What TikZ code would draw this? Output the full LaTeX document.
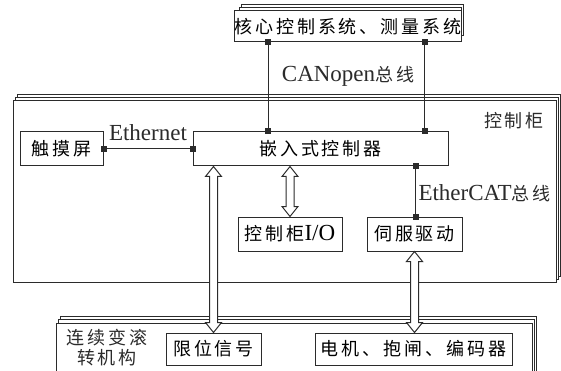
\documentclass[tikz,border=0pt]{standalone}
\usepackage{fontspec}
\setmainfont{Liberation Serif}
\newfontfamily\cjk[LetterSpace=16]{Noto Sans CJK SC}
\usetikzlibrary{calc}
\definecolor{ink}{HTML}{2B2B2B}
\newcommand\zh[1]{{\cjk\fontsize{18}{20}\selectfont #1}}
\newcommand\latin{\fontsize{23}{25}\selectfont}
\newcommand\hollowarrow[2]{%
  \draw[arrowline] let \p1=(#1), \p2=(#2) in
  (\x1,\y1) -- ++(8pt,-10pt) -- ++(-4pt,0pt) -- (\x2+4pt,\y2+10pt) -- ++(4pt,0pt)
  -- (\x2,\y2) -- ++(-8pt,10pt) -- ++(4pt,0pt) -- (\x1-4pt,\y1-10pt) -- ++(-4pt,0pt) -- cycle;}
\begin{document}
\begin{tikzpicture}[x=1pt,y=-1pt,line width=1pt,
  box/.style={draw=ink,fill=white,inner sep=0pt,font=\latin},
  sq/.style={fill=ink,minimum size=6pt,inner sep=0pt},
  link/.style={draw=ink,line width=1pt},
  arrowline/.style={draw=ink,fill=white,line width=1pt,line join=miter},
  frame/.style={draw=ink,fill=white,line width=1pt},
  lbl/.style={inner sep=0pt,font=\latin,text=ink}]
\useasboundingbox[fill=white] (0,0) rectangle (561,371);
% control cabinet frame (stacked)
\draw[frame] (17,94.5) rectangle (560,276);
\draw[frame] (15,97.5) rectangle (558,279);
\draw[frame] (13,100.5) rectangle (556,282);
% mechanism frame (stacked)
\draw[frame] (60,316) rectangle (536,390);
\draw[frame] (58,319.5) rectangle (534,390);
\draw[frame] (56,323) rectangle (532,390);
% core system box (stacked)
\draw[frame] (241,5) rectangle (463,36);
\draw[frame] (239,8) rectangle (461,39);
\node[box,minimum width=222pt,minimum height=31pt] (core) at (348,26.5) {\zh{核心控制系统、测量系统}};
% nodes
\node[box,minimum width=255pt,minimum height=34pt] (ctrl) at (320.5,149) {\zh{嵌入式控制器}};
\node[box,minimum width=83pt,minimum height=34pt] (touch) at (61.5,149) {\zh{触摸屏}};
\node[box,minimum width=104pt,minimum height=34pt] (io) at (290,234) {\zh{控制柜}I/O};
\node[box,minimum width=95pt,minimum height=34pt] (servo) at (414.5,234) {\zh{伺服驱动}};
\node[box,minimum width=95pt,minimum height=32pt] (limit) at (213.5,349) {\zh{限位信号}};
\node[box,minimum width=197pt,minimum height=32pt] (motor) at (413.5,349) {\zh{电机、抱闸、编码器}};
% labels
\node[lbl] (canlbl) at (348,76) {CANopen\zh{总线}};
\node[lbl] (ethlbl) at (148,133) {Ethernet};
\node[lbl,anchor=west] (ecatlbl) at (418,193) {EtherCAT\zh{总线}};
\node[lbl] (cablbl) at (514,121) {\zh{控制柜}};
\node[lbl,align=center,font={\cjk\fontsize{18}{20}\selectfont}] (mechlbl) at (107,348) {连续变滚\\转机构};
% bus connectors with square terminals
\node[sq] (s1) at ($(core.south west)+(34,0)$) {};
\node[sq] (s2) at (s1 |- ctrl.north) {};
\node[sq] (s3) at ($(core.south east)+(-37,0)$) {};
\node[sq] (s4) at (s3 |- ctrl.north) {};
\node[sq] (s5) at (touch.east) {};
\node[sq] (s6) at (ctrl.west) {};
\node[sq] (s7) at ($(ctrl.south east)+(-33,0)$) {};
\node[sq] (s8) at (s7 |- servo.north) {};
\draw[link] (s1.center) -- (s2.center);
\draw[link] (s3.center) -- (s4.center);
\draw[link] (s5.center) -- (s6.center);
\draw[link] (s7.center) -- (s8.center);
% hollow double arrows
\hollowarrow{ctrl.south -| io.north}{io.north}
\hollowarrow{ctrl.south -| limit.north}{limit.north}
\hollowarrow{servo.south}{servo.south |- motor.north}
\end{tikzpicture}
\end{document}
